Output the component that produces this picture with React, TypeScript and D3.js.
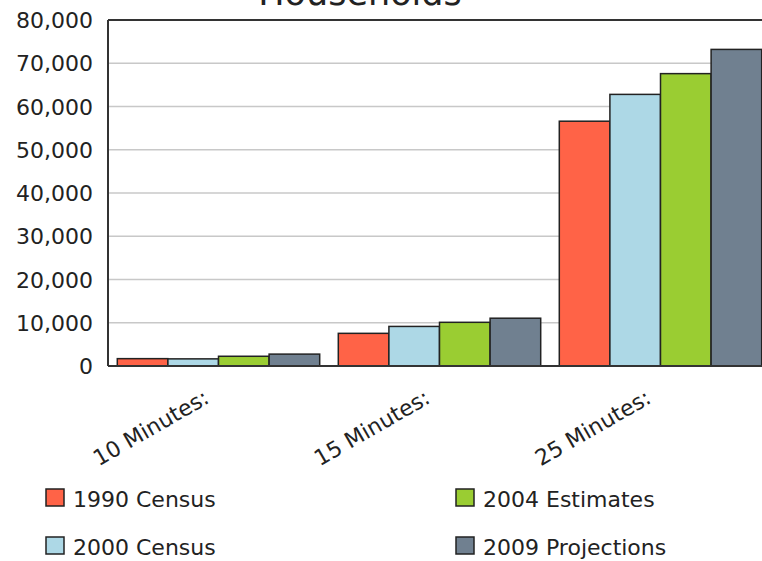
import React from "react";
import * as d3 from "d3";

const categories = ["10 Minutes:", "15 Minutes:", "25 Minutes:"];
const seriesNames = ["1990 Census", "2000 Census", "2004 Estimates", "2009 Projections"];
const seriesColors = ["#FF6347", "#ADD8E6", "#9ACD32", "#708090"];
const census1990 = [1700, 7550, 56600];
const census2000 = [1650, 9150, 62800];
const estimates2004 = [2250, 10100, 67600];
const projections2009 = [2750, 11050, 73200];
const seriesValues = [census1990, census2000, estimates2004, projections2009];
const yTicks = [0, 10000, 20000, 30000, 40000, 50000, 60000, 70000, 80000];

const W = 762;
const H = 561;
const FONT = "'DejaVu Sans', Verdana, sans-serif";

export default function App() {
  const left = 108;
  const right = 771;
  const top = 20;
  const bottom = 366;
  const x0 = d3.scaleBand<string>().domain(categories).range([left, right]).padding(0);
  const x1 = d3
    .scaleBand<string>()
    .domain(seriesNames)
    .range([9.3, x0.bandwidth() - 9.3])
    .padding(0);
  const y = d3.scaleLinear().domain([0, 80000]).range([bottom, top]);
  const fmt = d3.format(",");

  const legendPos = [
    { x: 46, y: 489 },
    { x: 46, y: 537 },
    { x: 456, y: 489 },
    { x: 456, y: 537 },
  ];

  return (
    <svg
      width={W}
      height={H}
      style={{ position: "absolute", left: 0, top: 0, background: "#fff" }}
      fontFamily={FONT}
    >
      <text x={360} y={5} textAnchor="middle" fontSize={35} fill="#222">
        Households
      </text>
      {yTicks.map((t) =>
        t > 0 && t < 80000 ? (
          <line key={"g" + t} x1={left} x2={W} y1={y(t)} y2={y(t)} stroke="#c8c8c8" strokeWidth={1.5} />
        ) : null
      )}
      {yTicks.map((t) => (
        <text key={"t" + t} x={93} y={y(t) + 8} textAnchor="end" fontSize={22} fill="#222">
          {fmt(t)}
        </text>
      ))}
      {categories.map((c, ci) =>
        seriesNames.map((s, si) => {
          const v = seriesValues[si][ci];
          const bx = (x0(c) as number) + (x1(s) as number);
          return (
            <rect
              key={c + s}
              x={bx}
              y={y(v)}
              width={x1.bandwidth()}
              height={bottom - y(v)}
              fill={seriesColors[si]}
              stroke="#222"
              strokeWidth={1.5}
            />
          );
        })
      )}
      <line x1={left} x2={W} y1={top} y2={top} stroke="#333" strokeWidth={2} />
      <line x1={left} x2={left} y1={top} y2={bottom} stroke="#333" strokeWidth={2} />
      <line x1={left} x2={W} y1={bottom} y2={bottom} stroke="#333" strokeWidth={2} />
      {categories.map((c) => {
        const cx = (x0(c) as number) + x0.bandwidth() / 2 - 8;
        const cy = 402;
        return (
          <text
            key={"x" + c}
            x={cx}
            y={cy}
            textAnchor="end"
            fontSize={22}
            fill="#222"
            transform={`rotate(-30 ${cx} ${cy})`}
          >
            {c}
          </text>
        );
      })}
      {seriesNames.map((s, i) => (
        <g key={"l" + s}>
          <rect
            x={legendPos[i].x}
            y={legendPos[i].y}
            width={18}
            height={17}
            fill={seriesColors[i]}
            stroke="#222"
            strokeWidth={1.5}
          />
          <text x={legendPos[i].x + 27} y={legendPos[i].y + 18} fontSize={22} fill="#222">
            {s}
          </text>
        </g>
      ))}
    </svg>
  );
}
